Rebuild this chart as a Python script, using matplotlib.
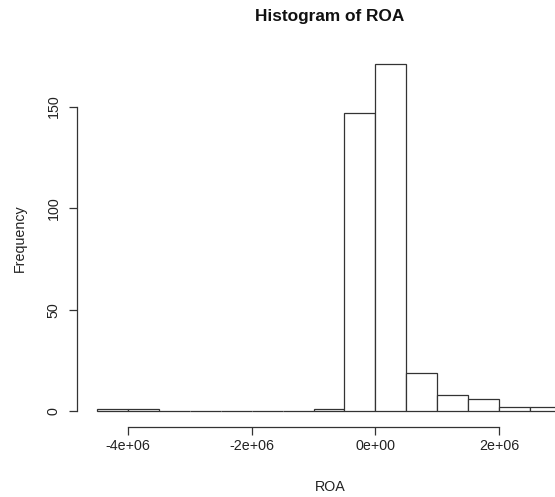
import matplotlib
matplotlib.use("Agg")
import matplotlib.pyplot as plt
import numpy as np

bin_edges = [-4.5e6, -4.0e6, -3.5e6, -3.0e6, -2.5e6, -2.0e6, -1.5e6, -1.0e6,
             -0.5e6, 0.0, 0.5e6, 1.0e6, 1.5e6, 2.0e6, 2.5e6, 3.0e6]
counts = [1, 1, 0, 0, 0, 0, 0, 1, 147, 171, 19, 8, 6, 2, 2]
x_ticks = [-4e6, -2e6, 0, 2e6]
x_tick_labels = ["-4e+06", "-2e+06", "0e+00", "2e+06"]
y_ticks = [0, 50, 100, 150]
y_tick_labels = ["0", "50", "100", "150"]

plt.rcParams['font.family'] = ['Liberation Sans', 'DejaVu Sans']

W, H = 555, 497
fig = plt.figure(figsize=(W / 100, H / 100), dpi=100)
left_px, right_px, top_px, bot_px = 78, 580, 50, 425.4
ax = fig.add_axes([left_px / W, 1 - bot_px / H, (right_px - left_px) / W, (bot_px - top_px) / H])

edges = np.array(bin_edges)
widths = np.diff(edges)
ax.bar(edges[:-1], counts, width=widths, align='edge', color='white',
       edgecolor='#333333', linewidth=0.9)

rng = edges[-1] - edges[0]
ax.set_xlim(edges[0] - 0.04 * rng, edges[-1] + 0.04 * rng)
ymax = max(counts)
ax.set_ylim(-0.04 * ymax, ymax * 1.04)

for s in ['top', 'right']:
    ax.spines[s].set_visible(False)
ax.spines['left'].set_bounds(y_ticks[0], y_ticks[-1])
ax.spines['bottom'].set_bounds(x_ticks[0], x_ticks[-1])
for s in ['left', 'bottom']:
    ax.spines[s].set_color('#333333')
    ax.spines[s].set_linewidth(0.9)
ax.spines['left'].set_position(('outward', 1))
ax.spines['bottom'].set_position(('outward', 1))

ax.set_xticks(x_ticks)
ax.set_xticklabels(x_tick_labels)
ax.set_yticks(y_ticks)
ax.set_yticklabels(y_tick_labels, rotation=90, va='center')
ax.tick_params(axis='both', length=5.5, width=0.9, color='#333333',
               labelsize=10.3, labelcolor='#222222')
ax.tick_params(axis='x', pad=3)
ax.tick_params(axis='y', pad=6)

fig.text(330 / W, 1 - 17 / H, "Histogram of ROA", ha='center', va='center',
         fontsize=12.4, fontweight='bold', color='#111111')
fig.text(330 / W, 1 - 487 / H, "ROA", ha='center', va='center',
         fontsize=10.3, color='#222222')
fig.text(20 / W, 1 - 238 / H, "Frequency", ha='center', va='center',
         rotation=90, fontsize=10.3, color='#222222')

fig.savefig("out.png", dpi=100)
